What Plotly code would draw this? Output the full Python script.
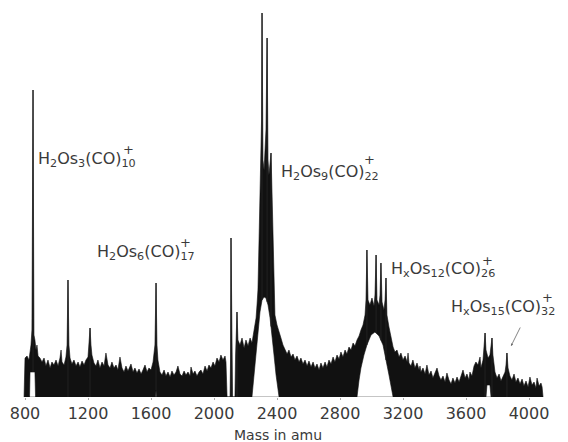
import numpy as np
import plotly.graph_objects as go

# Upper edge of the recorded trace: mass (amu) and intensity (arbitrary units)
top_mass = [794, 800, 813, 825, 832, 838, 844, 851, 857, 863, 870, 876, 883, 895, 908, 921, 933, 946,
            959, 971, 984, 997, 1010, 1022, 1029, 1035, 1048, 1060, 1067, 1073, 1079, 1086, 1098, 1111,
            1124, 1137, 1149, 1162, 1175, 1187, 1200, 1206, 1213, 1219, 1225, 1238, 1251, 1263, 1276,
            1289, 1302, 1314, 1327, 1340, 1352, 1365, 1378, 1390, 1403, 1416, 1429, 1441, 1454, 1473,
            1486, 1498, 1511, 1524, 1537, 1549, 1562, 1575, 1587, 1600, 1613, 1625, 1632, 1638, 1644,
            1657, 1670, 1683, 1695, 1708, 1721, 1733, 1746, 1759, 1771, 1784, 1797, 1810, 1822, 1835,
            1848, 1854, 1867, 1879, 1892, 1905, 1917, 1930, 1943, 1956, 1968, 1981, 1994, 2006, 2019,
            2032, 2044, 2057, 2070, 2076, 2083, 2102, 2105, 2108, 2114, 2118, 2133, 2137, 2146, 2152,
            2165, 2178, 2191, 2203, 2216, 2229, 2241, 2254, 2267, 2273, 2279, 2286, 2292, 2298, 2302,
            2305, 2308, 2311, 2318, 2324, 2330, 2337, 2340, 2343, 2349, 2356, 2362, 2368, 2375, 2381,
            2387, 2400, 2413, 2425, 2438, 2451, 2464, 2476, 2489, 2502, 2514, 2527, 2540, 2552, 2565,
            2578, 2591, 2603, 2616, 2629, 2641, 2654, 2667, 2679, 2692, 2705, 2717, 2730, 2743, 2756,
            2768, 2781, 2794, 2806, 2819, 2832, 2844, 2857, 2870, 2883, 2895, 2908, 2921, 2933, 2946,
            2959, 2965, 2971, 2978, 2990, 3003, 3016, 3022, 3029, 3035, 3048, 3054, 3060, 3067, 3079,
            3086, 3092, 3098, 3111, 3124, 3137, 3149, 3162, 3175, 3187, 3200, 3213, 3226, 3232, 3238,
            3251, 3263, 3276, 3289, 3302, 3308, 3314, 3327, 3340, 3352, 3365, 3378, 3390, 3403, 3416,
            3429, 3441, 3454, 3467, 3479, 3492, 3505, 3517, 3530, 3543, 3556, 3568, 3581, 3594, 3606,
            3619, 3625, 3638, 3651, 3663, 3676, 3689, 3695, 3708, 3714, 3721, 3727, 3740, 3752, 3759,
            3765, 3771, 3784, 3797, 3810, 3822, 3835, 3848, 3854, 3860, 3867, 3879, 3892, 3905, 3917,
            3930, 3943, 3956, 3968, 3981, 3994, 4006, 4019, 4032, 4044, 4051, 4064, 4076, 4083, 4089]
top_int = [0, 39, 41, 37, 45, 52, 67, 307, 62, 57, 47, 52, 41, 39, 35, 39, 31, 37,
           29, 35, 32, 37, 31, 39, 47, 35, 32, 40, 52, 117, 52, 39, 33, 37,
           31, 35, 30, 36, 32, 37, 40, 52, 69, 52, 42, 34, 31, 37, 29,
           35, 31, 44, 32, 29, 35, 29, 32, 27, 40, 29, 25, 31, 26, 33,
           25, 29, 24, 28, 23, 27, 32, 25, 29, 27, 35, 52, 114, 52, 37,
           25, 22, 27, 21, 25, 20, 26, 22, 25, 31, 23, 21, 26, 22, 25,
           21, 30, 23, 26, 21, 25, 27, 23, 31, 26, 32, 29, 35, 31, 39,
           35, 42, 37, 41, 35, 0, 0, 37, 159, 37, 0, 0, 42, 85, 57,
           52, 59, 49, 57, 51, 59, 54, 67, 79, 92, 107, 157, 207, 237, 277,
           384, 277, 237, 227, 247, 267, 359, 277, 237, 222, 237, 244, 207, 157, 102,
           82, 72, 64, 59, 52, 47, 43, 47, 40, 43, 37, 41, 35, 39, 33,
           37, 31, 36, 30, 35, 29, 33, 27, 34, 29, 35, 30, 37, 33, 40,
           35, 42, 38, 45, 40, 47, 43, 50, 47, 54, 51, 57, 61, 67, 72,
           82, 97, 147, 97, 92, 99, 91, 102, 142, 97, 92, 102, 134, 95, 87,
           97, 119, 82, 70, 59, 50, 45, 47, 40, 44, 37, 41, 35, 44, 34,
           31, 37, 29, 34, 27, 31, 25, 29, 23, 32, 22, 26, 19, 24, 29,
           21, 17, 21, 15, 24, 17, 13, 19, 14, 20, 15, 21, 27, 19, 23,
           17, 25, 21, 31, 35, 32, 40, 29, 37, 52, 64, 47, 39, 42, 52,
           59, 42, 25, 19, 23, 16, 21, 25, 32, 44, 29, 21, 17, 23, 15,
           19, 13, 18, 11, 16, 10, 20, 12, 15, 9, 19, 11, 14, 10, 0]

# Lower edge of the trace: zero except where the fast pen sweep leaves hollows
low_mass = [794, 829, 832, 863, 867, 1629, 1632, 1635, 2241, 2254, 2267, 2279, 2292, 2305, 2318,
            2330, 2343, 2356, 2368, 2381, 2394, 2406, 2413, 2908, 2921, 2933, 2952, 2971, 2997,
            3022, 3048, 3073, 3092, 3111, 3130, 3137, 3727, 3733, 3752, 3759, 4089]
low_int = [0, 0, 25, 25, 0, 0, 7, 0, 0, 22, 42, 62, 85, 97, 100,
           99, 92, 79, 62, 42, 22, 7, 0, 0, 17, 29, 42, 52, 62,
           65, 61, 52, 37, 22, 7, 0, 0, 12, 12, 0, 0]

# Resolved peak tips
peak_mass = [851, 1073, 1213, 1632, 2108, 2146, 2305, 2337, 2362, 2971, 3029, 3060, 3092, 3721, 3765, 3860]
peak_int = [307, 117, 69, 114, 159, 85, 384, 359, 244, 147, 142, 134, 119, 64, 59, 44]

# Axis ticks
tick_mass = [800, 1200, 1600, 2000, 2400, 2800, 3200, 3600, 4000]
tick_text = [str(v) for v in tick_mass]

# Cluster ion assignments
ion_labels = [
    "H<sub>2</sub>Os<sub>3</sub>(CO)<sub>10</sub>",
    "H<sub>2</sub>Os<sub>6</sub>(CO)<sub>17</sub>",
    "H<sub>2</sub>Os<sub>9</sub>(CO)<sub>22</sub>",
    "H<sub>x</sub>Os<sub>12</sub>(CO)<sub>26</sub>",
    "H<sub>x</sub>Os<sub>15</sub>(CO)<sub>32</sub>",
]
label_mass = [870, 1244, 2413, 3111, 3492]
label_int = [238, 145, 225, 128, 90]
# the "+" charge sign sits above the last subscript of each formula
charge_mass = [1460, 1822, 2990, 3736, 4117]
charge_int = [248, 155, 238, 137, 100]

INK = "#111111"
TEXT = "#3a3a3a"
FONT = "DejaVu Sans"

fig = go.Figure()

# baseline of the record
fig.add_trace(go.Scatter(
    x=[top_mass[0], top_mass[-1]], y=[0, 0], mode="lines",
    line=dict(color="#8a8a8a", width=1), hoverinfo="skip"))

# filled trace between the lower and upper edges
fig.add_trace(go.Scatter(
    x=top_mass + low_mass[::-1], y=top_int + low_int[::-1],
    mode="lines", fill="toself", fillcolor=INK,
    line=dict(color=INK, width=0.6), hoverinfo="skip"))

# peak tips drawn as thin sticks rising from the filled trace
feet = np.interp(peak_mass, low_mass, low_int)
sx, sy = [], []
for m, f, h in zip(peak_mass, feet, peak_int):
    sx += [m, m, None]
    sy += [f, h, None]
fig.add_trace(go.Scatter(x=sx, y=sy, mode="lines",
                         line=dict(color="#222222", width=1), hoverinfo="skip"))

annotations = []
for text, m, h in zip(ion_labels, label_mass, label_int):
    annotations.append(dict(x=m, y=h, xref="x", yref="y", text=text, showarrow=False,
                            xanchor="left", yanchor="middle",
                            font=dict(family=FONT, size=16, color=TEXT)))
for m, h in zip(charge_mass, charge_int):
    annotations.append(dict(x=m, y=h, xref="x", yref="y", text="+", showarrow=False,
                            xanchor="center", yanchor="middle",
                            font=dict(family=FONT, size=13, color=TEXT)))

# pointer to the Os15 peak
annotations.append(dict(x=3886, y=51, ax=3949, ay=71, xref="x", yref="y", axref="x", ayref="y",
                        text="", showarrow=True, arrowhead=2, arrowsize=0.6,
                        arrowwidth=0.8, arrowcolor="#666666"))

annotations.append(dict(x=0.49, y=0, xref="paper", yref="paper", yshift=-38,
                        text="Mass in amu", showarrow=False, xanchor="center", yanchor="middle",
                        font=dict(family=FONT, size=14, color=TEXT)))

fig.update_layout(
    width=568, height=442,
    margin=dict(l=0, r=0, t=0, b=45),
    paper_bgcolor="white", plot_bgcolor="white",
    showlegend=False,
    annotations=annotations,
    xaxis=dict(range=[641.3, 4247.6], tickvals=tick_mass, ticktext=tick_text,
               showgrid=False, zeroline=False, showline=False,
               ticks="outside", ticklen=2, tickcolor="#aaaaaa",
               tickfont=dict(family=FONT, size=16, color=TEXT)),
    yaxis=dict(range=[0, 397], visible=False, fixedrange=True),
)

fig.write_html("out.html")
